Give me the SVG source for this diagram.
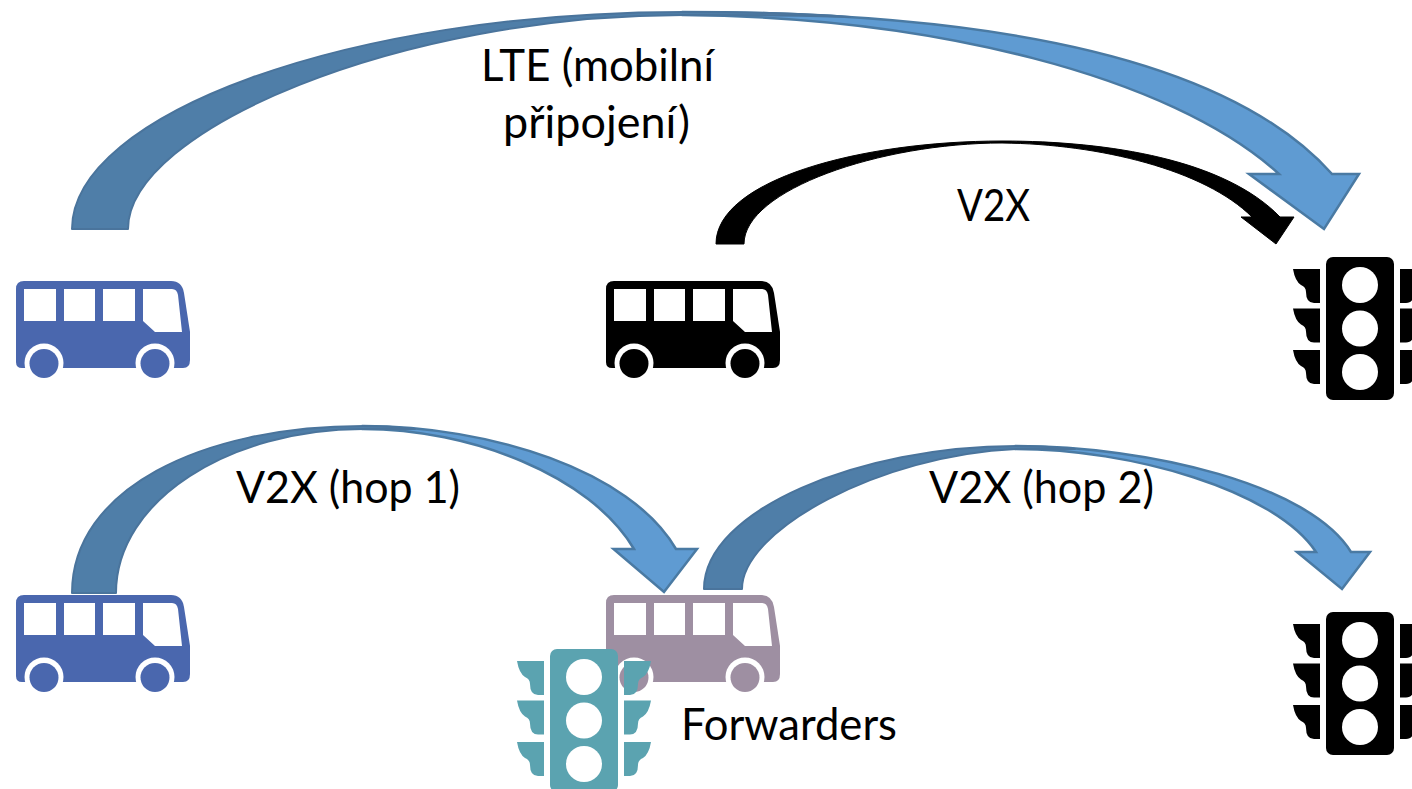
<svg xmlns="http://www.w3.org/2000/svg" xmlns:xlink="http://www.w3.org/1999/xlink" width="1412" height="789" viewBox="0 0 1412 789">
<style>
.t{font-family:"Lato","Liberation Sans",sans-serif;font-size:45px;fill:#000}
.hole{fill:#fff}
.dark{fill:#4F7EA8;stroke:#4A749C;stroke-width:2;stroke-linejoin:round}
.light{fill:#5F9BD2;stroke:#4A7AA3;stroke-width:2.5;stroke-linejoin:miter}
</style>
<defs>
<g id="bus">
<path d="M24,281H171Q182,281 184,293L190,332V360Q190,368 183,368H22Q16,368 16,362V289Q16,281 24,281Z"/>
<path class="hole" d="M24,289H56V321H24ZM64,289H95V321H64ZM103,289H135V321H103ZM143,289H172Q177,289 178,295L182,332H155L143,321Z"/>
<circle class="hole" cx="44" cy="363" r="19.5"/><circle class="hole" cx="155" cy="363" r="19.5"/>
<circle cx="44" cy="363.5" r="14.5"/><circle cx="155" cy="363.5" r="14.5"/>
</g>
<path id="wing" d="M1293,269H1320V303H1314Q1306,303 1306,292Q1306,287 1301,285Q1295,281 1293,269Z"/>
<g id="light">
<rect x="1326" y="257" width="68" height="143" rx="7"/>
<circle class="hole" cx="1360" cy="285" r="18"/><circle class="hole" cx="1360" cy="328.500" r="18"/><circle class="hole" cx="1360" cy="372" r="18"/>
<use href="#wing"/><use href="#wing" y="39.500"/><use href="#wing" y="81"/>
<g transform="translate(2720 0) scale(-1 1)"><use href="#wing"/><use href="#wing" y="39.500"/><use href="#wing" y="81"/></g>
</g>
</defs>
<rect width="1412" height="789" fill="#fff"/>
<g id="connectors">
<g id="arrow-lte">
<path class="light" d="M683,12C1000,12 1230,60 1332,174H1359L1324,229L1249,174H1279C1170,75 930,17 683,15Z"/>
<path class="dark" d="M72,229C72,115 347,12 683,12C750,12 800,13 850,17C790,15 740,15 683,15C400,15 128,130 128,229Z"/>
</g>
<g id="arrow-v2x">
<path d="M716,244C716,180 860,141 1002,141C1110,141 1225,160 1280,217H1294L1276,244L1241,217H1252C1205,170 1100,144 1002,143C880,143 744,190 744,244Z" fill="#000" stroke="#000" stroke-linejoin="round"/>
</g>
<g id="arrow-hop1">
<path class="light" d="M363,426C490,426 630,470 676,549H697L664,592L613.500,549H634C590,475 470,429 363,429Z"/>
<path class="dark" d="M72,593C72,490 200,426 363,426C380,426 398,427 415,429C398,429 380,429 363,429C230,429 116,500 116,593Z"/>
</g>
<g id="arrow-hop2">
<path class="light" d="M1016,446C1150,446 1310,485 1351,552H1370L1342,589L1297,552H1316C1275,490 1130,449 1016,449Z"/>
<path class="dark" d="M704,589C704,510 860,446 1016,446C1035,446 1055,447 1075,449C1055,449 1035,449 1016,449C880,455 742,530 742,589Z"/>
</g>
</g>
<g id="bus-lte" fill="#4A67AE"><use href="#bus"/></g>
<g id="bus-v2x" fill="#000" transform="translate(590 0)"><use href="#bus"/></g>
<g id="light-top" fill="#000"><use href="#light"/></g>
<g id="bus-hop" fill="#4A67AE" transform="translate(0 314)"><use href="#bus"/></g>
<g id="bus-forwarder" fill="#9E8FA2" transform="translate(590 314)"><use href="#bus"/></g>
<g id="light-forwarder" fill="#5BA3B0" transform="translate(-776 392)"><use href="#light"/></g>
<g id="light-bottom" fill="#000" transform="translate(0 355)"><use href="#light"/></g>
<g id="labels">
<text class="t" x="481" y="81" textLength="233" lengthAdjust="spacingAndGlyphs">LTE (mobilní</text>
<text class="t" x="503" y="138" textLength="187" lengthAdjust="spacingAndGlyphs">připojení)</text>
<text class="t" x="957" y="221" textLength="73" lengthAdjust="spacingAndGlyphs">V2X</text>
<text class="t" x="236" y="503" textLength="224" lengthAdjust="spacingAndGlyphs">V2X (hop 1)</text>
<text class="t" x="929" y="503" textLength="225" lengthAdjust="spacingAndGlyphs">V2X (hop 2)</text>
<text class="t" x="681" y="740" textLength="216" lengthAdjust="spacingAndGlyphs">Forwarders</text>
</g>
</svg>
